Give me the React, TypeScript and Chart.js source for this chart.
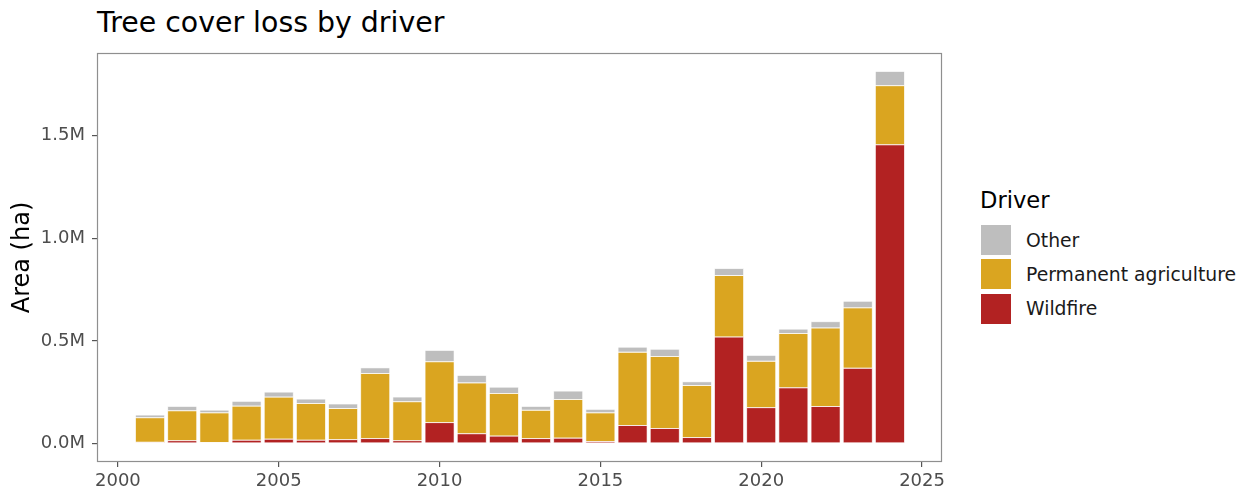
import React, { useEffect, useRef } from "react";
import { Chart, registerables } from "chart.js";

Chart.register(...registerables);

const years: number[] = [2001, 2002, 2003, 2004, 2005, 2006, 2007, 2008, 2009, 2010, 2011, 2012, 2013, 2014, 2015, 2016, 2017, 2018, 2019, 2020, 2021, 2022, 2023, 2024];
const wildfire: number[] = [6000, 13000, 4000, 16000, 21000, 16000, 18000, 23000, 13000, 101000, 47000, 36000, 23000, 26000, 10000, 88000, 73000, 28000, 519000, 174000, 271000, 180000, 367000, 1456000];
const permanentAgriculture: number[] = [119000, 146000, 145000, 166000, 205000, 179000, 152000, 318000, 190000, 297000, 248000, 208000, 139000, 188000, 139000, 357000, 351000, 254000, 299000, 227000, 265000, 383000, 294000, 288000];
const other: number[] = [13000, 21000, 13000, 23000, 24000, 21000, 22000, 27000, 23000, 55000, 36000, 30000, 18000, 41000, 17000, 24000, 35000, 18000, 34000, 28000, 21000, 30000, 32000, 69000];
const xTicks: number[] = [2000, 2005, 2010, 2015, 2020, 2025];
const yTicks: number[] = [0, 500000, 1000000, 1500000];

const seriesNames = ["Wildfire", "Permanent agriculture", "Other"];
const seriesColors = ["#B22222", "#DAA520", "#BEBEBE"];
const seriesValues = [wildfire, permanentAgriculture, other];
const legendOrder = [2, 1, 0];

const FONT = "'DejaVu Sans', sans-serif";

export default function App() {
  const canvasRef = useRef<HTMLCanvasElement | null>(null);

  useEffect(() => {
    const canvas = canvasRef.current;
    if (!canvas) return;
    const totals = years.map((_, i) => wildfire[i] + permanentAgriculture[i] + other[i]);
    const maxTotal = Math.max(...totals);

    const outlinePlugin = {
      id: "barOutline",
      afterDatasetsDraw(chart: any) {
        const { ctx, chartArea } = chart;
        ctx.save();
        ctx.strokeStyle = "rgba(255,255,255,0.85)";
        ctx.lineWidth = 0.7;
        chart.data.datasets.forEach((_: any, di: number) => {
          const meta = chart.getDatasetMeta(di);
          meta.data.forEach((el: any) => {
            const p = el.getProps(["x", "y", "base", "width"], true);
            const left = p.x - p.width / 2;
            const top = Math.min(p.y, p.base);
            const h = Math.abs(p.base - p.y);
            ctx.strokeRect(left, top, p.width, h);
          });
        });
        ctx.strokeStyle = "#8f8f8f";
        ctx.lineWidth = 1.2;
        ctx.strokeRect(
          Math.round(chartArea.left) + 0.5,
          Math.round(chartArea.top) + 0.5,
          Math.round(chartArea.right - chartArea.left) - 1,
          Math.round(chartArea.bottom - chartArea.top) - 1
        );
        ctx.restore();
      },
    };

    const chart = new Chart(canvas, {
      type: "bar",
      data: {
        datasets: seriesValues.map((vals, k) => ({
          label: seriesNames[k],
          data: years.map((yr, i) => ({ x: yr, y: vals[i] })),
          backgroundColor: seriesColors[k],
          borderWidth: 0,
          barPercentage: 0.9,
          categoryPercentage: 1.0,
        })),
      },
      options: {
        animation: false,
        responsive: false,
        maintainAspectRatio: false,
        layout: { padding: { top: 53, right: 18, bottom: 0, left: 0 } },
        plugins: {
          legend: { display: false },
          title: { display: false },
          tooltip: { enabled: false },
        },
        scales: {
          x: {
            type: "linear",
            stacked: true,
            min: 1999.35,
            max: 2025.62,
            offset: false,
            afterBuildTicks: (scale: any) => {
              scale.ticks = xTicks.map((v) => ({ value: v }));
            },
            afterFit: (scale: any) => {
              scale.height = 27;
            },
            grid: {
              display: true,
              offset: false,
              drawOnChartArea: false,
              drawTicks: true,
              tickLength: 5,
              tickColor: "#555555",
              lineWidth: 1.2,
            },
            border: { display: false },
            ticks: {
              autoSkip: false,
              maxRotation: 0,
              padding: 4,
              color: "#4d4d4d",
              font: { family: FONT, size: 18 },
              callback: (v: any) => String(v),
            },
          },
          y: {
            type: "linear",
            stacked: true,
            min: -0.05 * maxTotal,
            max: 1.05 * maxTotal,
            afterBuildTicks: (scale: any) => {
              scale.ticks = yTicks.map((v) => ({ value: v }));
            },
            afterFit: (scale: any) => {
              scale.width = 97;
            },
            grid: {
              display: true,
              drawOnChartArea: false,
              drawTicks: true,
              tickLength: 5,
              tickColor: "#555555",
              lineWidth: 1.2,
            },
            border: { display: false },
            ticks: {
              padding: 7,
              color: "#4d4d4d",
              font: { family: FONT, size: 18 },
              callback: (v: any) => (Number(v) / 1e6).toFixed(1) + "M",
            },
            title: {
              display: true,
              text: "Area (ha)",
              color: "#000000",
              font: { family: FONT, size: 24 },
              padding: { top: 8, bottom: 0 },
            },
          },
        },
      },
      plugins: [outlinePlugin],
    });
    return () => chart.destroy();
  }, []);

  return (
    <div
      style={{
        position: "fixed",
        left: 0,
        top: 0,
        width: 1247,
        height: 489,
        background: "#ffffff",
        fontFamily: FONT,
        overflow: "hidden",
      }}
    >
      <div
        style={{
          position: "absolute",
          left: 97,
          top: 9,
          fontSize: 28.4,
          lineHeight: "28.4px",
          color: "#000000",
          whiteSpace: "nowrap",
        }}
      >
        Tree cover loss by driver
      </div>
      <canvas
        ref={canvasRef}
        width={960}
        height={489}
        style={{ position: "absolute", left: 0, top: 0, width: 960, height: 489 }}
      />
      <div
        style={{
          position: "absolute",
          left: 980,
          top: 189,
          fontSize: 22.6,
          lineHeight: "22.6px",
          color: "#000000",
          whiteSpace: "nowrap",
        }}
      >
        Driver
      </div>
      {legendOrder.map((k, row) => (
        <div
          key={seriesNames[k]}
          style={{
            position: "absolute",
            left: 980,
            top: 224 + row * 34.3,
            height: 32,
            display: "flex",
            alignItems: "center",
            whiteSpace: "nowrap",
          }}
        >
          <div
            style={{
              width: 30,
              height: 30,
              background: seriesColors[k],
              border: "1px solid #ffffff",
            }}
          />
          <span style={{ marginLeft: 14, fontSize: 18.8, color: "#1a1a1a" }}>{seriesNames[k]}</span>
        </div>
      ))}
    </div>
  );
}
